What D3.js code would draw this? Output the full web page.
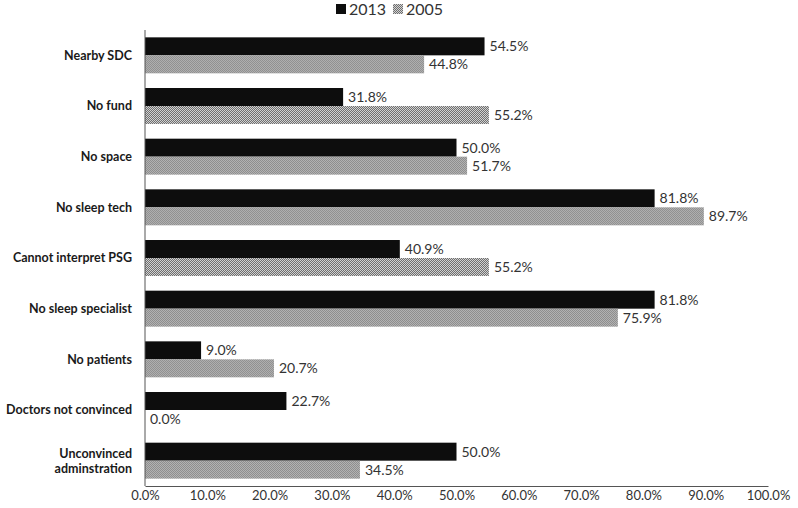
<!DOCTYPE html>
<html>
<head>
<meta charset="utf-8">
<script src="https://cdn.jsdelivr.net/npm/d3@7"></script>
<style>
  body { margin: 0; background: #fff; }
  text { font-family: Lato, "Open Sans", sans-serif; }
</style>
</head>
<body>
<div id="chart"></div>
<script>
// data
var categories = ["Nearby SDC", "No fund", "No space", "No sleep tech", "Cannot interpret PSG",
  "No sleep specialist", "No patients", "Doctors not convinced", "Unconvinced adminstration"];
var series = ["2013", "2005"];
var values2013 = [54.5, 31.8, 50.0, 81.8, 40.9, 81.8, 9.0, 22.7, 50.0];
var values2005 = [44.8, 55.2, 51.7, 89.7, 55.2, 75.9, 20.7, 0.0, 34.5];
var xTicks = [0, 10, 20, 30, 40, 50, 60, 70, 80, 90, 100];

var width = 798, height = 508;
var margin = {top: 30, right: 30, bottom: 22, left: 145};
var chartW = width - margin.left - margin.right;
var chartH = height - margin.top - margin.bottom;

var svg = d3.select("#chart").append("svg")
  .attr("width", width)
  .attr("height", height);

// checker pattern for 2005 bars
var defs = svg.append("defs");
var pat = defs.append("pattern")
  .attr("id", "checker")
  .attr("width", 2).attr("height", 2)
  .attr("patternUnits", "userSpaceOnUse");
pat.append("rect").attr("width", 2).attr("height", 2).attr("fill", "#d2d2d2");
pat.append("rect").attr("width", 1).attr("height", 1).attr("fill", "#6e6e6e");
pat.append("rect").attr("x", 1).attr("y", 1).attr("width", 1).attr("height", 1).attr("fill", "#6e6e6e");

var fills = {"2013": "#0d0d0d", "2005": "url(#checker)"};

var xScale = d3.scaleLinear().domain([0, 100]).range([0, chartW]);
var yScale = d3.scaleBand().domain(categories).range([0, chartH]).paddingInner(0.29).paddingOuter(0.145);
var ySub = d3.scaleBand().domain(series).range([0, yScale.bandwidth()]);

var g = svg.append("g")
  .attr("transform", "translate(" + margin.left + "," + margin.top + ")");

var rows = categories.map(function(c, i) {
  return {cat: c, vals: [{s: "2013", v: values2013[i]}, {s: "2005", v: values2005[i]}]};
});

var groups = g.selectAll(".grp").data(rows).enter().append("g")
  .attr("class", "grp")
  .attr("transform", function(d) { return "translate(0," + yScale(d.cat) + ")"; });

groups.selectAll("rect").data(function(d) { return d.vals; }).enter().append("rect")
  .attr("x", 0)
  .attr("y", function(d) { return ySub(d.s); })
  .attr("width", function(d) { return xScale(d.v); })
  .attr("height", ySub.bandwidth())
  .attr("fill", function(d) { return fills[d.s]; });

groups.selectAll(".val").data(function(d) { return d.vals; }).enter().append("text")
  .attr("class", "val")
  .attr("x", function(d) { return xScale(d.v) + 5; })
  .attr("y", function(d) { return ySub(d.s) + ySub.bandwidth() / 2; })
  .attr("dy", "0.35em")
  .attr("font-size", 14)
  .attr("fill", "#333")
  .text(function(d) { return d.v.toFixed(1) + "%"; });

// category labels (wrap the long last one)
var labels = g.selectAll(".cat").data(categories).enter().append("text")
  .attr("class", "cat")
  .attr("text-anchor", "end")
  .attr("font-size", 12.5)
  .attr("font-weight", "bold")
  .attr("fill", "#1a1a1a")
  .attr("x", -13)
  .attr("y", function(d) { return yScale(d) + yScale.bandwidth() / 2; });
labels.each(function(d) {
  var t = d3.select(this);
  var lines = d === "Unconvinced adminstration" ? ["Unconvinced", "adminstration"] : [d];
  lines.forEach(function(l, i) {
    t.append("tspan")
      .attr("x", -13)
      .attr("dy", i === 0 ? (0.35 - (lines.length - 1) * 0.6) + "em" : "1.2em")
      .text(l);
  });
});

// axes
var xAxis = d3.axisBottom(xScale).tickValues(xTicks)
  .tickFormat(function(d) { return d.toFixed(1) + "%"; })
  .tickSize(0).tickPadding(5);
var xg = g.append("g")
  .attr("transform", "translate(0," + chartH + ")")
  .call(xAxis);
xg.select(".domain").attr("stroke", "#555");
xg.selectAll("text").attr("font-size", 13).attr("fill", "#333")
  .style("font-family", "Lato, 'Open Sans', sans-serif");

g.append("line")
  .attr("x1", 0).attr("x2", 0)
  .attr("y1", 0).attr("y2", chartH)
  .attr("stroke", "#555");

// legend
var legend = svg.append("g").attr("transform", "translate(336,4)");
series.forEach(function(s, i) {
  var lx = i * 57;
  legend.append("rect")
    .attr("x", lx).attr("y", 0)
    .attr("width", 10).attr("height", 10)
    .attr("fill", fills[s]);
  legend.append("text")
    .attr("x", lx + 13).attr("y", 5)
    .attr("dy", "0.35em")
    .attr("font-size", 16)
    .attr("fill", "#333")
    .text(s);
});
</script>
</body>
</html>
